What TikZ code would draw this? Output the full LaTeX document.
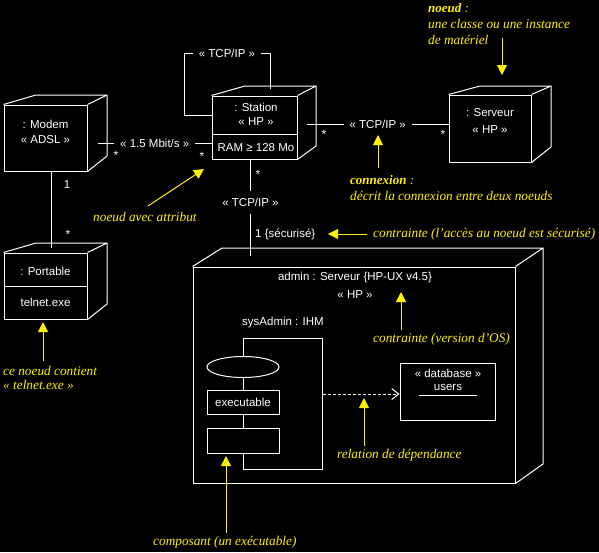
\documentclass[tikz,border=0pt]{standalone}
\usepackage{fontspec}
\setmainfont{Liberation Sans}
\newfontfamily\annfont{Liberation Serif}
\usetikzlibrary{arrows.meta,calc,shapes.geometric}
\begin{document}
\begin{tikzpicture}[x=1pt,y=-1pt,
  wl/.style={draw=white, line width=1pt},
  box/.style={draw=white, line width=1pt, inner sep=0pt, fill=black},
  txt/.style={text=white, font=\fontsize{11.5}{13}\selectfont, inner sep=0pt},
  lbl/.style={txt, fill=black, inner xsep=6pt, inner ysep=2pt},
  star/.style={text=white, font=\fontsize{12}{13}\selectfont, inner sep=0pt},
  ann/.style={text=yellow, font=\annfont\itshape\fontsize{13.3}{15}\selectfont, inner sep=0pt, anchor=west},
  annb/.style={ann, font=\annfont\itshape\bfseries\fontsize{13}{15}\selectfont},
  ya/.style={draw=yellow, line width=1pt, -{Triangle[width=10pt,length=10pt]}},
  dep/.style={draw=white, line width=1pt, dash pattern=on 3pt off 2pt, -{Straight Barb[length=7pt,width=11pt]}}
]
\useasboundingbox (0,0) rectangle (599,552);
\fill[black] (0,0) rectangle (599,552);

% ---------- Modem ----------
\node[box, minimum width=83pt, minimum height=66pt] (modem) at (45.5,138) {};
\draw[wl] (modem.north west) -- (36,95) -- (107,95) -- (107,156) -- (modem.south east)
          (modem.north east) -- (107,95);
\node[txt] (modemA) at (45.5,124) {: Modem};
\node[txt] (modemB) at (45.5,140) {« ADSL »};

% ---------- Station ----------
\node[box, minimum width=85pt, minimum height=63pt] (station) at (254.5,127.5) {};
\draw[wl] (station.north west) -- (245,86) -- (316,86) -- (316,146) -- (station.south east)
          (station.north east) -- (316,86);
\draw[wl] (station.west |- 0,134) -- (station.east |- 0,134);
\node[txt] (stationA) at (256,107) {: Station};
\node[txt] (stationB) at (256,122) {« HP »};
\node[txt] (stationC) at (256,148) {RAM ≥ 128 Mo};

% ---------- Serveur ----------
\node[box, minimum width=82pt, minimum height=67pt] (serveur) at (490,128.5) {};
\draw[wl] (serveur.north west) -- (480,86) -- (551,86) -- (551,147) -- (serveur.south east)
          (serveur.north east) -- (551,86);
\node[txt] (serveurA) at (490,113) {: Serveur};
\node[txt] (serveurB) at (490,130) {« HP »};

% ---------- Portable ----------
\node[box, minimum width=83pt, minimum height=66pt] (portable) at (45.5,286) {};
\draw[wl] (portable.north west) -- (36,243) -- (107,243) -- (107,304) -- (portable.south east)
          (portable.north east) -- (107,243);
\draw[wl] (portable.west) -- (portable.east);
\node[txt] (portableA) at (45.5,271) {: Portable};
\node[txt] (portableB) at (45.5,302) {telnet.exe};

% ---------- Admin server ----------
\node[box, minimum width=322pt, minimum height=216pt] (admin) at (354,375) {};
\draw[wl] (admin.north west) -- (222,248) -- (543,248) -- (543,464) -- (admin.south east)
          (admin.north east) -- (543,248);
\node[txt] (adminA) at (355,278) {admin : Serveur {\{}HP-UX v4.5{\}}};
\node[txt] (adminB) at (355,295) {« HP »};
\node[txt] (sysadm) at (283,323) {sysAdmin : IHM};

% component
\node[box, minimum width=79pt, minimum height=131pt] (comp) at (282.5,403.5) {};
\node[box, ellipse, minimum width=72pt, minimum height=21pt] (compE) at (243,367) {};
\node[box, minimum width=72pt, minimum height=24pt, txt] (compX) at (243,402) {executable};
\node[box, minimum width=72pt, minimum height=25pt] (compY) at (243,440.5) {};

% database
\node[box, minimum width=95pt, minimum height=57pt] (db) at (447.5,391.5) {};
\node[txt] (dbA) at (448,373) {« database »};
\node[txt] (dbB) at (448,387) {users};
\draw[wl] (419,395) -- (477,395);

\draw[dep] (comp.east |- 0,394) -- (db.west |- 0,394);

% ---------- Connectors ----------
\coordinate (mA) at (98,143);
\draw[wl] (mA) -- node[lbl] (bw) {« 1.5 Mbit/s »} (station.west |- mA);
\node[star] (s1) at (116,155) {*};
\node[star] (s2) at (202,156) {*};

\coordinate (sA) at (307,124);
\draw[wl] (sA) -- node[lbl] (tcp2) {« TCP/IP »} (serveur.west |- sA);
\node[star] (s3) at (324,134) {*};
\node[star] (s4) at (443,134) {*};

\coordinate (sL) at (212,115);
\coordinate (sT) at (270,89);
\draw[wl] (sL) -- (184,115) -- (184,53) -- node[lbl] (tcp1) {« TCP/IP »} (270,53) -- (sT);

\coordinate (mB) at (51,171);
\coordinate (pT) at (51,248);
\draw[wl] (mB) -- (pT);
\node[txt] (one1) at (67,185) {1};
\node[star] (s5) at (68,234) {*};

\coordinate (stB) at (250.5,159);
\coordinate (adT) at (250.5,256);
\draw[wl] (stB) -- node[lbl, pos=0.45, inner xsep=2pt, inner ysep=7pt] (tcp3) {« TCP/IP »} (adT);
\node[star] (s6) at (258,174) {*};
\node[txt, anchor=west] (secu) at (255,234) {1 {\{}sécurisé{\}}};

% ---------- Annotations ----------
\node[annb] (n1) at (428,8) {noeud \mdseries:};
\node[ann] (n2) at (428,24) {une classe ou une instance};
\node[ann] (n3) at (428,40) {de matériel};
\coordinate (a1s) at (502,38); \coordinate (a1e) at (502,75);
\draw[ya] (a1s) -- (a1e);

\node[annb] (c1) at (350,180) {connexion \mdseries:};
\node[ann] (c2) at (350,196) {décrit la connexion entre deux noeuds};
\coordinate (a2s) at (378,168); \coordinate (a2e) at (378,135);
\draw[ya] (a2s) -- (a2e);

\node[ann] (att) at (93,217) {noeud avec attribut};
\coordinate (a3s) at (148,206); \coordinate (a3e) at (204,169);
\draw[ya] (a3s) -- (a3e);

\node[ann] (k1) at (373,234) {contrainte (l’accès au noeud est sécurisé)};
\coordinate (a4s) at (367,234); \coordinate (a4e) at (328,234);
\draw[ya] (a4s) -- (a4e);

\node[ann] (k2) at (373,339) {contrainte (version d’OS)};
\coordinate (a5s) at (401,330); \coordinate (a5e) at (401,292);
\draw[ya] (a5s) -- (a5e);

\node[ann] (rel) at (337,455) {relation de dépendance};
\coordinate (a6s) at (364,446); \coordinate (a6e) at (364,398);
\draw[ya] (a6s) -- (a6e);

\node[ann] (tn1) at (3,371) {ce noeud contient};
\node[ann] (tn2) at (3,385) {« telnet.exe »};
\coordinate (a7s) at (43,361); \coordinate (a7e) at (43,322);
\draw[ya] (a7s) -- (a7e);

\node[ann] (cps) at (153,542) {composant (un exécutable)};
\coordinate (a8s) at (226,533); \coordinate (a8e) at (226,456);
\draw[ya] (a8s) -- (a8e);
\end{tikzpicture}
\end{document}
